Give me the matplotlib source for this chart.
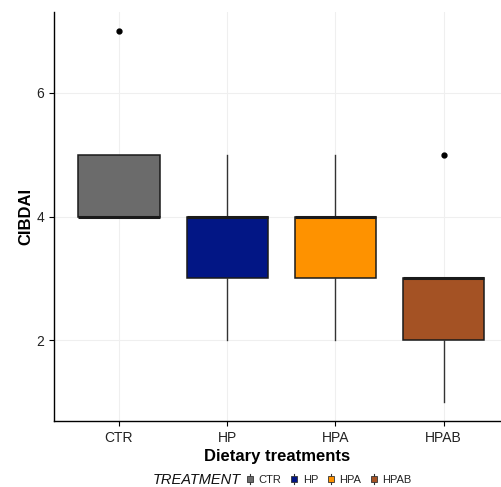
import matplotlib
matplotlib.use("Agg")
import matplotlib.pyplot as plt
from matplotlib.patches import Rectangle
from matplotlib.lines import Line2D
from matplotlib.legend_handler import HandlerBase

plt.rcParams['font.family'] = ['Liberation Sans', 'DejaVu Sans']

treatments = ['CTR', 'HP', 'HPA', 'HPAB']
colors = ['#6b6b6b', '#021685', '#fe9200', '#a45224']
q1 = [4, 3, 3, 2]
med = [4, 4, 4, 3]
q3 = [5, 4, 4, 3]
whis_lo = [4, 2, 2, 1]
whis_hi = [5, 5, 5, 3]
outliers = [[7], [], [], [5]]

stats = []
for i, t in enumerate(treatments):
    stats.append({'label': t, 'q1': q1[i], 'med': med[i], 'q3': q3[i],
                  'whislo': whis_lo[i], 'whishi': whis_hi[i], 'fliers': outliers[i]})

W, H = 501, 487
fig = plt.figure(figsize=(W / 100, H / 100), dpi=100)
ax = fig.add_axes([54 / W, (H - 421) / H, (W - 54) / W, (421 - 12) / H])

bp = ax.bxp(stats, positions=range(1, 5), widths=0.75, patch_artist=True,
            showcaps=False,
            boxprops=dict(edgecolor='#1a1a1a', linewidth=1.1),
            medianprops=dict(color='#1a1a1a', linewidth=2.2),
            whiskerprops=dict(color='#333333', linewidth=1.0),
            flierprops=dict(marker='o', markersize=3.5, markerfacecolor='black',
                            markeredgecolor='black'),
            zorder=3)
for patch, c in zip(bp['boxes'], colors):
    patch.set_facecolor(c)

ax.set_xlim(0.4, 4.53)
ax.set_ylim(0.7, 7.3)
ax.set_yticks([2, 4, 6])
ax.set_xticks(range(1, 5))
ax.set_xticklabels(treatments)
ax.grid(True, color='#efefef', linewidth=0.8, zorder=0)
ax.set_axisbelow(True)
for s in ['top', 'right']:
    ax.spines[s].set_visible(False)
for s in ['left', 'bottom']:
    ax.spines[s].set_linewidth(1.0)
    ax.spines[s].set_color('black')
ax.tick_params(axis='both', labelsize=10, length=3.5, width=0.8, colors='black',
               labelcolor='#222222')
ax.set_xlabel('Dietary treatments', fontsize=12, fontweight='bold', labelpad=3)
ax.set_ylabel('CIBDAI', fontsize=12, fontweight='bold', labelpad=2)


class BoxHandler(HandlerBase):
    def create_artists(self, legend, orig, xd, yd, width, height, fontsize, trans):
        cx = xd + width / 2
        ln = Line2D([cx, cx], [yd - 1, yd + height + 1], color='#333333', lw=0.8,
                    transform=trans)
        r = Rectangle((cx - 2.0, yd + height * 0.15), 4.0, height * 0.7,
                      facecolor=orig.get_facecolor(), edgecolor='#333333', lw=0.6,
                      transform=trans)
        return [ln, r]


handles = [Rectangle((0, 0), 1, 1, facecolor=c) for c in colors]
fig.text(241 / W, 1 - 480 / H, 'TREATMENT', fontsize=10.5, fontstyle='italic',
         ha='right', va='center', color='#111111')
fig.legend(handles, treatments, handler_map={Rectangle: BoxHandler()},
           loc='center left', bbox_to_anchor=(246 / W, 1 - 480 / H), ncol=4,
           frameon=False, fontsize=8, handlelength=0.72, handletextpad=0.4,
           columnspacing=0.8, borderpad=0, borderaxespad=0,
           labelcolor='#222222')

fig.savefig('out.png', dpi=100)
